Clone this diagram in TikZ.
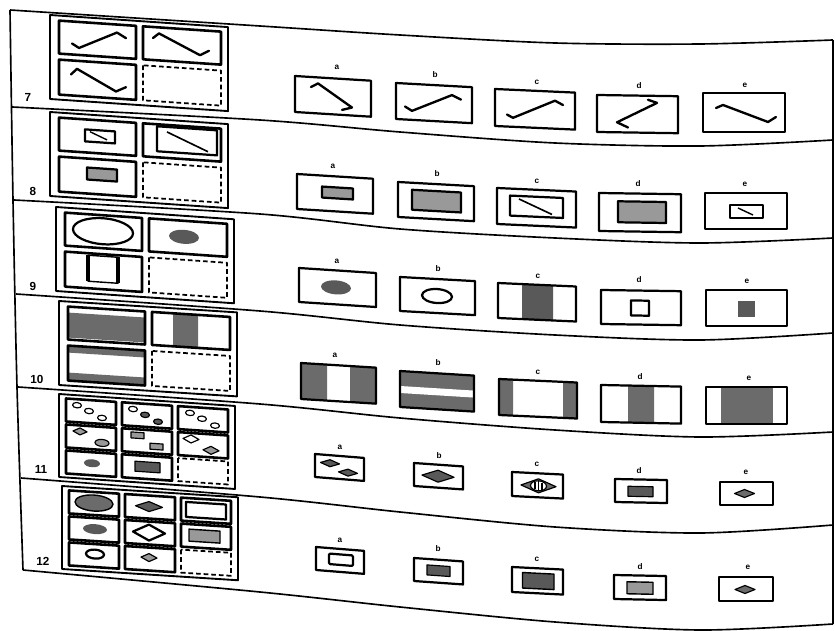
\documentclass[tikz,border=0pt]{standalone}
\usepackage{fontspec}
\setmainfont{Liberation Sans}
\newcommand{\rhomb}[4]{(#1,#2) +(-#3,0) -- +(0,-#4) -- +(#3,0) -- +(0,#4) -- cycle}

\begin{document}
\begin{tikzpicture}[x=0.3mm, y=-0.3mm, line join=round,
  rule/.style={line width=1.4pt},
  frame/.style={line width=1.6pt},
  cell/.style={line width=2.2pt},
  blank/.style={line width=1.5pt, dash pattern=on 4pt off 2.5pt},
  opt/.style={line width=1.9pt},
  wire/.style={line width=2pt, line cap=round},
  dark/.style={fill=black!65},
  mid/.style={fill=black!58},
  pale/.style={fill=black!40},
  tag/.style={font=\bfseries\fontsize{7}{7}\selectfont, inner sep=0pt},
  num/.style={font=\bfseries\fontsize{10}{10}\selectfont, inner sep=0pt}]
  \useasboundingbox (0,0) rectangle (835,631);

  % page rules
  \draw[rule, smooth] plot coordinates {(10,10) (13,200) (17,387) (23,570)};
  \draw[rule, smooth] plot coordinates {(10,10) (260,26) (400,35) (555,43) (700,44) (833,40)};
  \draw[rule] (833,40) -- (833,624);
  \draw[rule, smooth] plot coordinates {(12,107) (260,120) (400,132) (555,143) (700,146) (833,140)};
  \draw[rule, smooth] plot coordinates {(14,200) (260,214) (400,229) (555,238) (700,243) (833,238)};
  \draw[rule, smooth] plot coordinates {(16,294) (260,311) (400,325) (555,335) (700,340) (833,333)};
  \draw[rule, smooth] plot coordinates {(18,387) (260,404) (400,418) (555,430) (700,437) (833,432)};
  \draw[rule, smooth] plot coordinates {(21,478) (260,497) (400,512) (555,527) (700,533) (833,525)};
  \draw[rule, smooth] plot coordinates {(23,570) (260,592) (400,607) (555,622) (700,630) (833,624)};

  % row numbers
  \node[num] (n7) at (28,97) {7};
  \node[num] (n8) at (33,191) {8};
  \node[num] (n9) at (33,286) {9};
  \node[num] (n10) at (37,379) {10};
  \node[num] (n11) at (41,469) {11};
  \node[num] (n12) at (43,561) {12};

  % item 7
  \begin{scope}[shift={(50,15)}, yslant=-0.068]
    \draw[frame] (0,0) rectangle (178,84);
    \draw[cell] (9,5) rectangle (86,38) (93,5) rectangle (171,38) (9,44) rectangle (86,79);
    \draw[blank] (93,44) rectangle (171,79);
    \draw[wire] (22,27) -- (29,31) -- (67,13) -- (76,18);
    \draw[wire] (103,16) -- (109,11) -- (150,30) -- (159,25);
    \draw[wire] (21,58) -- (27,52) -- (66,72) -- (76,67);
  \end{scope}
  \begin{scope}[shift={(295,76)}, yslant=-0.062]
    \draw[opt] (0,0) rectangle (76,36);
    \draw[wire] (16,10) -- (23,6) -- (57,28) -- (47,31);
  \end{scope}
  \begin{scope}[shift={(396,83)}, yslant=-0.055]
    \draw[opt] (0,0) rectangle (76,36);
    \draw[wire] (9,23) -- (16,27) -- (56,9) -- (65,13);
  \end{scope}
  \begin{scope}[shift={(495,89)}, yslant=-0.045]
    \draw[opt] (0,0) rectangle (80,37);
    \draw[wire] (12,25) -- (18,28) -- (60,9) -- (68,13);
  \end{scope}
  \begin{scope}[shift={(597,95)}, yslant=-0.015]
    \draw[opt] (0,0) rectangle (81,37);
    \draw[wire] (31,32) -- (20,27) -- (60,7) -- (51,4);
  \end{scope}
  \begin{scope}[shift={(703,93)}]
    \draw[opt] (0,0) rectangle (82,39);
    \draw[wire] (13,15) -- (20,12) -- (65,29) -- (73,24);
  \end{scope}
  \node[tag] (t7a) at (337,67) {a};
  \node[tag] (t7b) at (435,75) {b};
  \node[tag] (t7c) at (537,82) {c};
  \node[tag] (t7d) at (639,86) {d};
  \node[tag] (t7e) at (745,85) {e};

  % item 8
  \begin{scope}[shift={(50,112)}, yslant=-0.068]
    \draw[frame] (0,0) rectangle (178,84);
    \draw[cell] (9,5) rectangle (86,38) (93,5) rectangle (171,38) (9,44) rectangle (86,79);
    \draw[blank] (93,44) rectangle (171,79);
    \draw[opt] (35,15) rectangle (65,27);
    \draw[line width=1.2pt] (40,17) -- (57,24);
    \draw[opt] (107,7) rectangle (167,32);
    \draw[line width=1.4pt] (117,12) -- (158,29);
    \filldraw[opt, pale] (37,53) rectangle (67,65);
  \end{scope}
  \begin{scope}[shift={(297,174)}, yslant=-0.062]
    \draw[opt] (0,0) rectangle (76,35);
    \filldraw[opt, pale] (25,11) rectangle (56,22);
  \end{scope}
  \begin{scope}[shift={(398,182)}, yslant=-0.055]
    \draw[opt] (0,0) rectangle (76,35);
    \filldraw[opt, pale] (14,7) rectangle (63,27);
  \end{scope}
  \begin{scope}[shift={(497,188)}, yslant=-0.045]
    \draw[opt] (0,0) rectangle (79,36);
    \draw[opt] (13,7) rectangle (66,27);
    \draw[line width=1.4pt] (22,10) -- (55,24);
  \end{scope}
  \begin{scope}[shift={(599,193)}, yslant=-0.015]
    \draw[opt] (0,0) rectangle (82,38);
    \filldraw[opt, pale] (19,8) rectangle (67,29);
  \end{scope}
  \begin{scope}[shift={(705,193)}]
    \draw[opt] (0,0) rectangle (82,36);
    \draw[opt] (25,12) rectangle (58,25);
    \draw[line width=1.2pt] (33,15) -- (48,22);
  \end{scope}
  \node[tag] (t8a) at (333,166) {a};
  \node[tag] (t8b) at (437,174) {b};
  \node[tag] (t8c) at (537,181) {c};
  \node[tag] (t8d) at (638,184) {d};
  \node[tag] (t8e) at (745,184) {e};

  % item 9
  \begin{scope}[shift={(56,207)}, yslant=-0.069]
    \draw[frame] (0,0) rectangle (178,84);
    \draw[cell] (9,5) rectangle (86,38) (93,5) rectangle (171,38) (9,44) rectangle (86,79);
    \draw[blank] (93,44) rectangle (171,79);
    \draw[opt] (47,21) ellipse [x radius=30, y radius=13];
    \fill[dark] (128,21) ellipse [x radius=15, y radius=7];
    \draw[line width=1.2pt] (32,46) rectangle (62,72);
    \draw[line width=3pt] (32,46) -- (32,72) (62,46) -- (62,72);
  \end{scope}
  \begin{scope}[shift={(299,268)}, yslant=-0.065]
    \draw[opt] (0,0) rectangle (77,34);
    \fill[dark] (37,17) ellipse [x radius=15, y radius=7];
  \end{scope}
  \begin{scope}[shift={(400,277)}, yslant=-0.055]
    \draw[opt] (0,0) rectangle (75,34);
    \draw[opt] (37,17) ellipse [x radius=15, y radius=7];
  \end{scope}
  \begin{scope}[shift={(498,283)}, yslant=-0.045]
    \fill[dark] (24,0) rectangle (55,35);
    \draw[opt] (0,0) rectangle (78,35);
  \end{scope}
  \begin{scope}[shift={(601,290)}, yslant=-0.015]
    \draw[opt] (0,0) rectangle (80,34);
    \draw[opt] (30,10) rectangle (48,25);
  \end{scope}
  \begin{scope}[shift={(706,290)}]
    \draw[opt] (0,0) rectangle (81,36);
    \fill[dark] (32,11) rectangle (49,27);
  \end{scope}
  \node[tag] (t9a) at (337,261) {a};
  \node[tag] (t9b) at (438,269) {b};
  \node[tag] (t9c) at (538,276) {c};
  \node[tag] (t9d) at (639,280) {d};
  \node[tag] (t9e) at (747,281) {e};

  % item 10
  \begin{scope}[shift={(59,301)}, yslant=-0.064]
    \fill[mid] (10,11) rectangle (85,36);
    \fill[mid] (114,5) rectangle (139,38);
    \fill[mid] (9,44) rectangle (86,51) (9,71) rectangle (86,79);
    \draw[frame] (0,0) rectangle (178,84);
    \draw[cell] (9,5) rectangle (86,38) (93,5) rectangle (171,38) (9,44) rectangle (86,79);
    \draw[blank] (93,44) rectangle (171,79);
  \end{scope}
  \begin{scope}[shift={(301,363)}, yslant=-0.062]
    \fill[mid] (0,0) rectangle (26,36) (49,0) rectangle (75,36);
    \draw[opt] (0,0) rectangle (75,36);
  \end{scope}
  \begin{scope}[shift={(400,371)}, yslant=-0.062]
    \fill[mid] (0,0) rectangle (74,36);
    \fill[white] (0,15) rectangle (74,22);
    \draw[opt] (0,0) rectangle (74,36);
  \end{scope}
  \begin{scope}[shift={(499,379)}, yslant=-0.045]
    \fill[mid] (0,0) rectangle (14,36) (64,0) rectangle (78,36);
    \draw[opt] (0,0) rectangle (78,36);
  \end{scope}
  \begin{scope}[shift={(601,385)}, yslant=-0.02]
    \fill[mid] (27,0) rectangle (53,37);
    \draw[opt] (0,0) rectangle (80,37);
  \end{scope}
  \begin{scope}[shift={(706,387)}]
    \fill[mid] (15,0) rectangle (67,37);
    \draw[opt] (0,0) rectangle (81,37);
  \end{scope}
  \node[tag] (t10a) at (335,355) {a};
  \node[tag] (t10b) at (438,363) {b};
  \node[tag] (t10c) at (538,372) {c};
  \node[tag] (t10d) at (640,377) {d};
  \node[tag] (t10e) at (749,378) {e};

  % item 11
  \begin{scope}[shift={(59,394)}, yslant=-0.068]
    \draw[frame] (0,0) rectangle (176,83);
    \draw[cell] (7,4) rectangle (57,27) (63,4) rectangle (113,27) (119,4) rectangle (169,27)
                (7,30) rectangle (57,53) (63,30) rectangle (113,53) (119,30) rectangle (169,53)
                (7,56) rectangle (57,79) (63,56) rectangle (113,79);
    \draw[blank] (119,56) rectangle (169,79);
    \draw[line width=1pt] (18,10) ellipse [x radius=4.5, y radius=2.7]
                          (30,15) ellipse [x radius=4.5, y radius=2.7]
                          (43,21) ellipse [x radius=4.5, y radius=2.7];
    \draw[line width=1pt] (74,10) ellipse [x radius=4.5, y radius=2.7];
    \filldraw[line width=1pt, dark] (86,15) ellipse [x radius=4.5, y radius=2.7]
                                    (99,21) ellipse [x radius=4.5, y radius=2.7];
    \draw[line width=1pt] (131,10) ellipse [x radius=4.5, y radius=2.7]
                          (143,15) ellipse [x radius=4.5, y radius=2.7]
                          (156,21) ellipse [x radius=4.5, y radius=2.7];
    \filldraw[line width=1pt, pale] \rhomb{21}{36}{7}{3.5};
    \filldraw[line width=1pt, pale] (43,46) ellipse [x radius=7, y radius=3.5];
    \filldraw[line width=1pt, pale] (72,33) rectangle (85,39) (91,43) rectangle (104,49);
    \draw[line width=1pt] \rhomb{132}{36}{8}{4};
    \filldraw[line width=1pt, pale] \rhomb{152}{46}{8}{4};
    \fill[dark] (33,67) ellipse [x radius=8, y radius=4];
    \filldraw[line width=1pt, dark] (76,62) rectangle (101,72);
  \end{scope}
  \begin{scope}[shift={(315,454)}, yslant=-0.08]
    \draw[opt] (0,0) rectangle (49,23);
    \filldraw[line width=1pt, dark] \rhomb{15}{8}{9.5}{3.5} \rhomb{33}{16}{9.5}{3.5};
  \end{scope}
  \begin{scope}[shift={(414,463)}, yslant=-0.07]
    \draw[opt] (0,0) rectangle (49,23);
    \filldraw[line width=1pt, dark] \rhomb{24}{11.5}{16}{6};
  \end{scope}
  \begin{scope}[shift={(512,472)}, yslant=-0.05]
    \draw[opt] (0,0) rectangle (51,24);
    \filldraw[line width=1pt, mid] \rhomb{26.5}{12.5}{17.5}{7};
    \filldraw[line width=1pt, fill=white] (26.5,12.5) ellipse [x radius=8, y radius=5];
    \draw[line width=0.9pt] (23,9) -- (23,16) (26.5,8) -- (26.5,17) (30,9) -- (30,16);
  \end{scope}
  \begin{scope}[shift={(615,479)}, yslant=-0.02]
    \draw[opt] (0,0) rectangle (52,23);
    \filldraw[line width=1pt, dark] (13,7) rectangle (38,17);
  \end{scope}
  \begin{scope}[shift={(720,482)}]
    \draw[opt] (0,0) rectangle (53,23);
    \filldraw[line width=1pt, mid] \rhomb{24.5}{11.5}{10}{4};
  \end{scope}
  \node[tag] (t11a) at (340,447) {a};
  \node[tag] (t11b) at (439,456) {b};
  \node[tag] (t11c) at (537,464) {c};
  \node[tag] (t11d) at (639,471) {d};
  \node[tag] (t11e) at (746,472) {e};

  % item 12
  \begin{scope}[shift={(62,486)}, yslant=-0.064]
    \draw[frame] (0,0) rectangle (176,83);
    \draw[cell] (7,4) rectangle (57,27) (63,4) rectangle (113,27) (119,4) rectangle (169,27)
                (7,30) rectangle (57,53) (63,30) rectangle (113,53) (119,30) rectangle (169,53)
                (7,56) rectangle (57,79) (63,56) rectangle (113,79);
    \draw[blank] (119,56) rectangle (169,79);
    \filldraw[line width=1.2pt, mid] (32,15) ellipse [x radius=19, y radius=8];
    \filldraw[line width=1pt, dark] \rhomb{87}{15}{13.5}{5};
    \draw[opt] (124,8) rectangle (164,23);
    \fill[dark] (33,41) ellipse [x radius=12, y radius=5];
    \draw[opt] \rhomb{87}{41}{16}{8};
    \filldraw[line width=1.2pt, pale] (127,35) rectangle (158,47);
    \draw[opt] (33,66) ellipse [x radius=9, y radius=4.5];
    \filldraw[line width=1pt, pale] \rhomb{87}{66}{8}{4};
  \end{scope}
  \begin{scope}[shift={(316,547)}, yslant=-0.08]
    \draw[opt] (0,0) rectangle (48,23);
    \draw[opt, rounded corners=1] (13,5.5) rectangle (37,16);
  \end{scope}
  \begin{scope}[shift={(414,558)}, yslant=-0.07]
    \draw[opt] (0,0) rectangle (49,23);
    \filldraw[line width=1pt, dark] (13,6) rectangle (36,16);
  \end{scope}
  \begin{scope}[shift={(512,567)}, yslant=-0.05]
    \draw[opt] (0,0) rectangle (51,25);
    \filldraw[line width=1.2pt, dark] (10.5,5) rectangle (42,20.5);
  \end{scope}
  \begin{scope}[shift={(614,575)}, yslant=-0.02]
    \draw[opt] (0,0) rectangle (52,24);
    \filldraw[line width=1.2pt, pale] (13,6.5) rectangle (39,18.5);
  \end{scope}
  \begin{scope}[shift={(719,577)}]
    \draw[opt] (0,0) rectangle (54,24);
    \filldraw[line width=1pt, mid] \rhomb{26}{12.5}{10}{4};
  \end{scope}
  \node[tag] (t12a) at (340,540) {a};
  \node[tag] (t12b) at (438,549) {b};
  \node[tag] (t12c) at (537,559) {c};
  \node[tag] (t12d) at (640,567) {d};
  \node[tag] (t12e) at (748,567) {e};
\end{tikzpicture}
\end{document}
